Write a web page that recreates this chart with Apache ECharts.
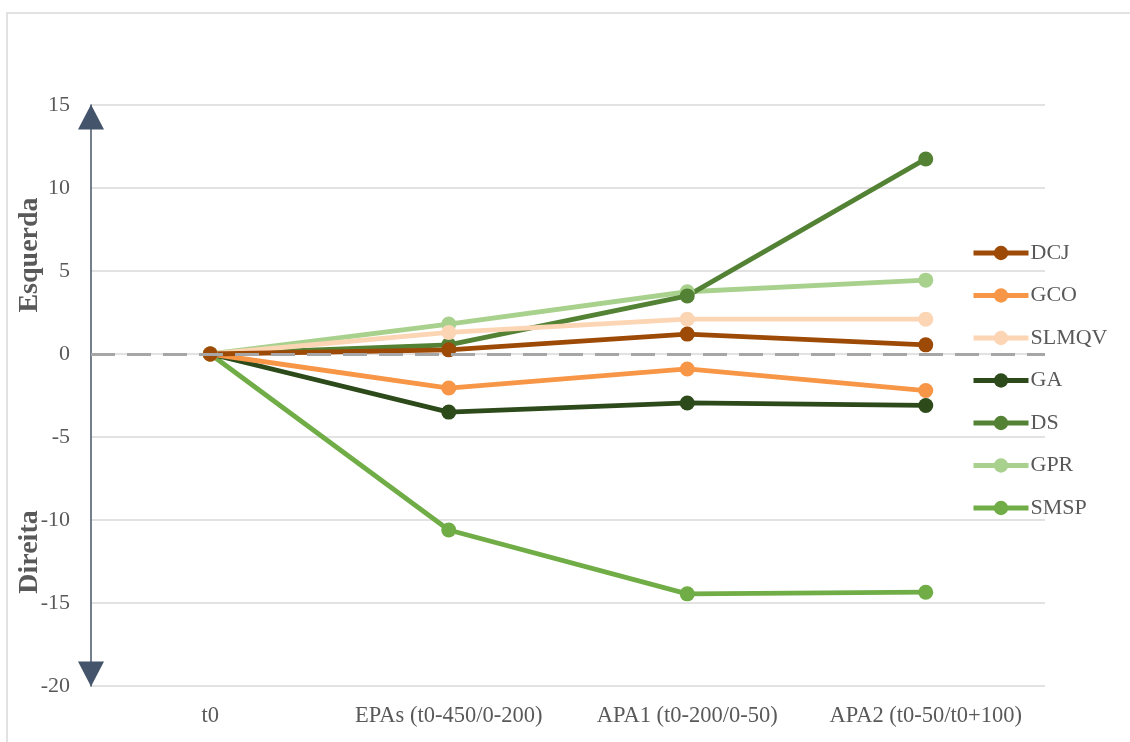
<!DOCTYPE html>
<html>
<head>
<meta charset="utf-8">
<script src="https://cdn.jsdelivr.net/npm/echarts@6/dist/echarts.min.js"></script>
<style>html,body{margin:0;padding:0;background:#fff;}#c{width:1130px;height:742px;}</style>
</head>
<body>
<div id="c"></div>
<script>
var categories = ['t0', 'EPAs (t0-450/0-200)', 'APA1 (t0-200/0-50)', 'APA2 (t0-50/t0+100)'];
var seriesNames = ['DCJ', 'GCO', 'SLMQV', 'GA', 'DS', 'GPR', 'SMSP'];
var seriesColors = ['#9c4a06', '#f79646', '#fcd5b5', '#2d4a1b', '#548235', '#a9d18e', '#70ad47'];
var DCJ   = [0, 0.25, 1.2, 0.55];
var GCO   = [0, -2.05, -0.9, -2.2];
var SLMQV = [0, 1.3, 2.1, 2.1];
var GA    = [0, -3.5, -2.95, -3.1];
var DS    = [0, 0.55, 3.5, 11.75];
var GPR   = [0, 1.8, 3.75, 4.45];
var SMSP  = [0, -10.6, -14.45, -14.35];
var seriesValues = [DCJ, GCO, SLMQV, GA, DS, GPR, SMSP];
var yTicks = [-20, -15, -10, -5, 0, 5, 10, 15];

var chart = echarts.init(document.getElementById('c'), null, {renderer: 'canvas'});
var font = '"Liberation Serif", "Times New Roman", serif';
var series = seriesNames.map(function (n, i) {
  return {
    name: n, type: 'line', data: seriesValues[i],
    symbol: 'circle', symbolSize: 15,
    lineStyle: {width: 4.8, color: seriesColors[i]},
    itemStyle: {color: seriesColors[i]},
    z: 3
  };
});
series.unshift({
  name: 'zero', type: 'line', data: [], silent: true,
  markLine: {
    silent: true, symbol: ['none', 'none'], label: {show: false},
    lineStyle: {color: '#a6a6a6', type: [24, 12], width: 3},
    data: [{yAxis: 0}]
  },
  z: 1
});
series.reverse();
chart.setOption({
  animation: false,
  backgroundColor: '#fff',
  grid: {left: 91, right: 85, top: 105, bottom: 56, containLabel: false},
  legend: {
    orient: 'vertical', left: 971, top: 242, padding: 0,
    data: seriesNames,
    itemWidth: 55, itemHeight: 18, itemGap: 20.5,
    lineStyle: {width: 5},
    textStyle: {fontFamily: font, fontSize: 22, lineHeight: 22, color: '#595959', padding: [0, 0, 0, -3]}
  },
  xAxis: {
    type: 'category', data: categories, boundaryGap: true,
    axisLine: {show: false}, axisTick: {show: false},
    axisLabel: {fontFamily: font, fontSize: 22.5, color: '#595959', margin: 19, interval: 0, hideOverlap: false},
    splitLine: {show: false}
  },
  yAxis: {
    type: 'value', min: -20, max: 15, interval: 5,
    axisLine: {show: true, onZero: false, symbol: ['triangle', 'triangle'], symbolSize: [26, 25], symbolOffset: [12, -12],
      lineStyle: {color: '#44546a', width: 1.5}},
    axisTick: {show: false},
    axisLabel: {fontFamily: font, fontSize: 22, color: '#595959', margin: 21,
      formatter: function (v) { return yTicks.indexOf(v) >= 0 ? String(v) : ''; }},
    splitLine: {show: true, lineStyle: {color: '#d9d9d9', width: 1.5}}
  },
  graphic: [
    {type: 'rect', shape: {x: 7, y: 13, width: 1140, height: 760}, style: {fill: 'none', stroke: '#d9d9d9', lineWidth: 1.5}, z: -10, silent: true},
    {type: 'text', x: 30, y: 255, rotation: Math.PI / 2, style: {text: 'Esquerda', font: 'bold 28px ' + font, fill: '#595959', textAlign: 'center', textVerticalAlign: 'middle'}},
    {type: 'text', x: 30, y: 552, rotation: Math.PI / 2, style: {text: 'Direita', font: 'bold 28px ' + font, fill: '#595959', textAlign: 'center', textVerticalAlign: 'middle'}}
  ],
  series: series
});
</script>
</body>
</html>
